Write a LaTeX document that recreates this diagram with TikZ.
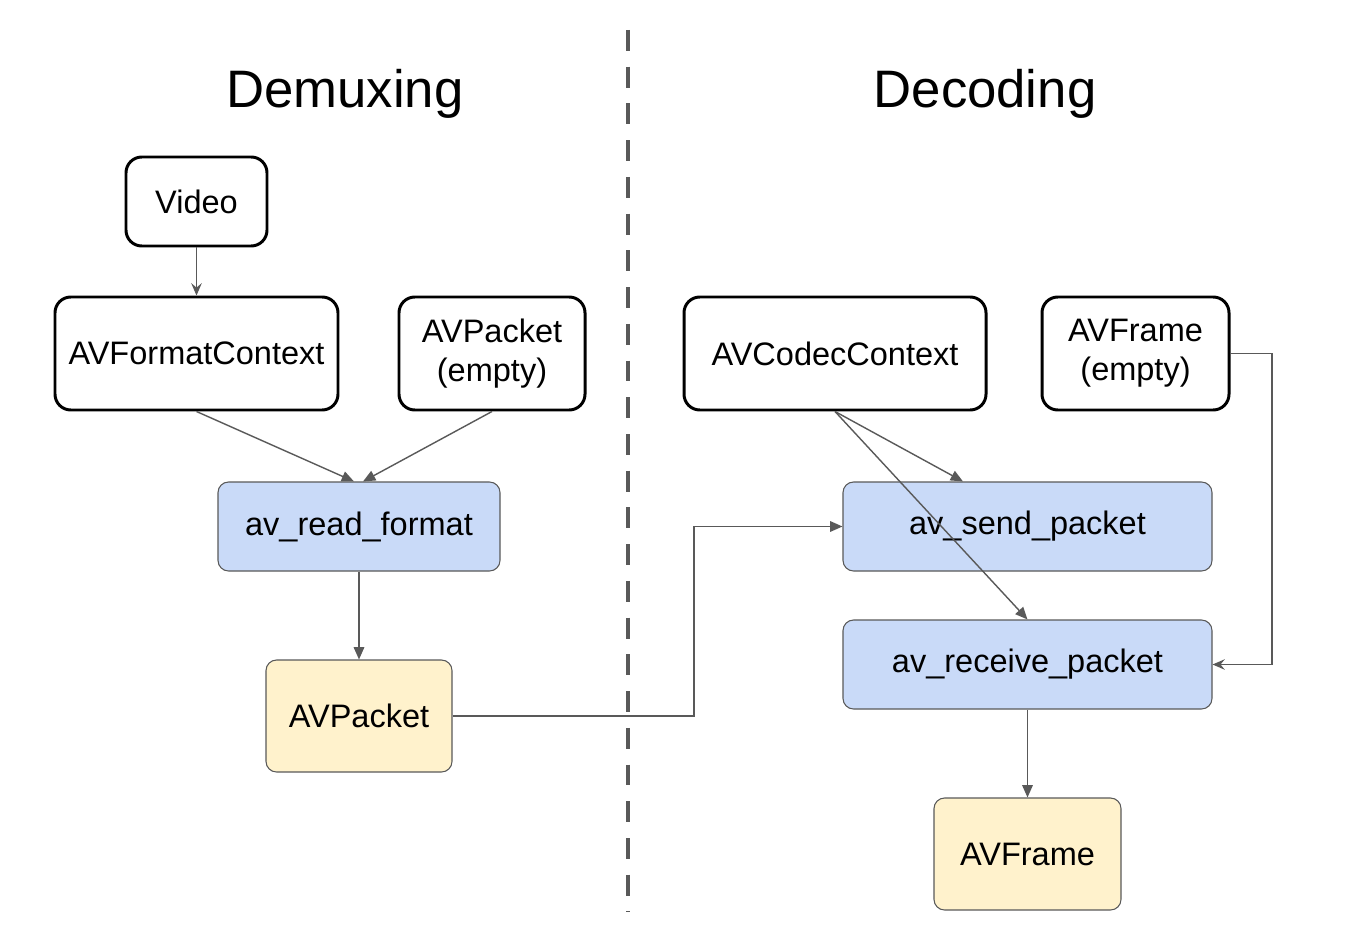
\documentclass[tikz,border=0pt]{standalone}
\usepackage{fontspec}
\setmainfont{Liberation Sans}
\usetikzlibrary{arrows.meta}
\definecolor{edgegray}{HTML}{595959}
\definecolor{callblue}{HTML}{C9DAF8}
\definecolor{datayellow}{HTML}{FFF2CC}

\begin{document}
\begin{tikzpicture}[
  obj/.style={draw=black, line width=1.7pt, rounded corners=9pt, align=center,
    font=\fontsize{18.5}{22}\selectfont, inner sep=0pt},
  call/.style={draw=edgegray, line width=0.6pt, fill=callblue, rounded corners=6pt,
    font=\fontsize{18.5}{22}\selectfont, inner sep=0pt},
  result/.style={call, fill=datayellow},
  flow/.style={draw=edgegray, line width=0.8pt, -{Triangle[length=7pt,width=6pt]}},
  thinflow/.style={draw=edgegray, line width=0.8pt, -{Stealth[length=7pt,width=6pt,inset=2.5pt]}},
  title/.style={font=\fontsize{30}{34}\selectfont, anchor=base}
]
\useasboundingbox (0,0) rectangle (26.96,-18.8);

\node[title] (demux) at (6.9,-2.15) {Demuxing};
\node[title] (decode) at (19.7,-2.15) {Decoding};

% demuxing side
\node[obj, minimum width=2.82cm, minimum height=1.78cm] (video) at (3.93,-4.03) {Video};
\node[obj, minimum width=5.66cm, minimum height=2.26cm] (fmtctx) at (3.93,-7.07) {AVFormatContext};
\node[obj, minimum width=3.72cm, minimum height=2.26cm] (pktempty) at (9.84,-7.07) {AVPacket\\(empty)};
\node[call, minimum width=5.64cm, minimum height=1.78cm] (readfmt) at (7.18,-10.53) {av\_read\_format};
\node[result, minimum width=3.72cm, minimum height=2.24cm] (packet) at (7.18,-14.32) {AVPacket};

% decoding side
\node[obj, minimum width=6.04cm, minimum height=2.26cm] (codecctx) at (16.70,-7.07) {AVCodecContext};
\node[obj, minimum width=3.74cm, minimum height=2.26cm] (frmempty) at (22.71,-7.07) {AVFrame\\(empty)};
\node[call, minimum width=7.38cm, minimum height=1.78cm] (send) at (20.55,-10.53) {av\_send\_packet};
\node[call, minimum width=7.38cm, minimum height=1.78cm] (receive) at (20.55,-13.29) {av\_receive\_packet};
\node[result, minimum width=3.74cm, minimum height=2.24cm] (frame) at (20.55,-17.08) {AVFrame};

\coordinate (bend) at (13.88,0);
\coordinate (loop) at (25.44,0);

\draw[thinflow] (video) -- (fmtctx);
\draw[flow] (fmtctx.south) -- ([xshift=-0.1cm]readfmt.north);
\draw[flow] (pktempty.south) -- ([xshift=0.08cm]readfmt.north);
\draw[flow] (readfmt) -- (packet);
\draw[flow] (packet.east) -| (bend |- send.west) -- (send.west);
\draw[flow] (codecctx.south) -- ([xshift=-1.29cm]send.north);
\draw[flow] (codecctx.south) -- (receive.north);
\draw[thinflow] (frmempty.east) -| (loop |- receive.east) -- (receive.east);
\draw[flow] (receive) -- (frame);

% divider
\draw[edgegray, line width=2.8pt, dash pattern=on 11.9pt off 9pt] (12.56,-0.6) -- (12.56,-18.24);
\end{tikzpicture}
\end{document}
